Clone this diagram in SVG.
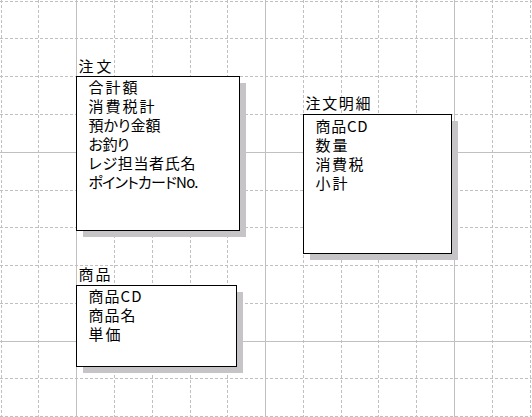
<svg xmlns="http://www.w3.org/2000/svg" width="532" height="417" viewBox="0 0 532 417">
  <style>
    .bg { fill: #ffffff; }
    .gd { stroke: #c0c0c0; stroke-width: 1; stroke-dasharray: 3 2; fill: none; }
    .gs { stroke: #c0c0c0; stroke-width: 1; fill: none; }
    .box { fill: #ffffff; stroke: #000000; stroke-width: 1; }
    .shadow { fill: #c6c4c6; stroke: none; }
    text { font-family: "Noto Sans CJK JP", "Noto Sans", sans-serif; font-size: 15px; fill: #000000; font-feature-settings: "palt"; }
  </style>
  <rect class="bg" x="0" y="0" width="532" height="417"/>
  <g id="grid">
    <path class="gd" d="M1.5 0V417M38.5 0V417M114.5 0V417M152.5 0V417M190.5 0V417M227.5 0V417M303.5 0V417M341.5 0V417M378.5 0V417M416.5 0V417M492.5 0V417M530.5 0V417"/>
    <path class="gd" d="M0 1.5H532M0 38.5H532M0 76.5H532M0 114.5H532M0 190.5H532M0 227.5H532M0 265.5H532M0 303.5H532M0 378.5H532M0 416.5H532"/>
    <path class="gs" d="M76.5 0V417M265.5 0V417M454.5 0V417M0 152.5H532M0 341.5H532"/>
  </g>
  <g id="connectors"/>
  <g id="node-chumon">
    <text x="78.5" y="72" textLength="33">注文</text>
    <rect class="shadow" x="83" y="83" width="163" height="154"/>
    <rect class="box" x="76.5" y="76.5" width="163" height="154"/>
    <text x="88.5" y="92.5" textLength="49">合計額</text>
    <text x="88.5" y="111.5" textLength="66">消費税計</text>
    <text x="88.5" y="130.5" textLength="72">預かり金額</text>
    <text x="88.5" y="149.5" textLength="41">お釣り</text>
    <text x="88.5" y="168.5" textLength="107">レジ担当者氏名</text>
    <text x="88.5" y="187.5" textLength="110">ポイントカードNo.</text>
  </g>
  <g id="node-chumon-meisai">
    <text x="305.5" y="108.5" textLength="65">注文明細</text>
    <rect class="shadow" x="310" y="121" width="148" height="139"/>
    <rect class="box" x="303.5" y="114.5" width="148" height="139"/>
    <text x="315.5" y="131.5" textLength="52">商品CD</text>
    <text x="315.5" y="150.5" textLength="32">数量</text>
    <text x="315.5" y="169.5" textLength="48">消費税</text>
    <text x="315.5" y="188.5" textLength="32">小計</text>
  </g>
  <g id="node-shohin">
    <text x="78.5" y="279.5" textLength="32">商品</text>
    <rect class="shadow" x="83" y="292" width="160" height="81"/>
    <rect class="box" x="76.5" y="285.5" width="160" height="81"/>
    <text x="88.5" y="301.5" textLength="53">商品CD</text>
    <text x="88.5" y="320.5" textLength="47">商品名</text>
    <text x="88.5" y="339.5" textLength="32">単価</text>
  </g>
</svg>
